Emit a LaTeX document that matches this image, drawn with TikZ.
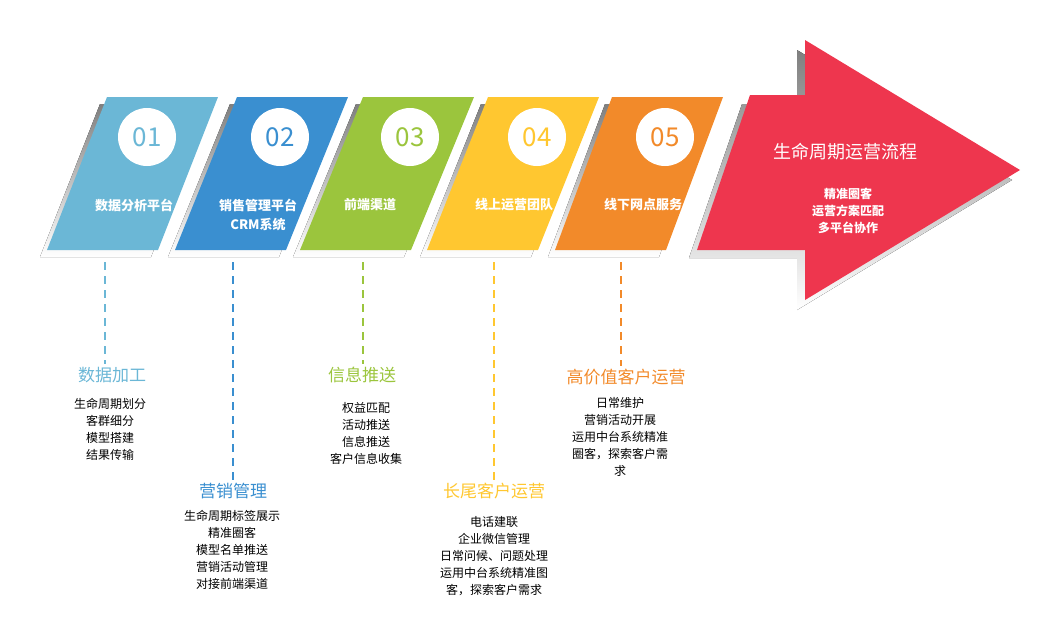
\documentclass[tikz,border=0pt]{standalone}
\usepackage{fontspec}
\setmainfont{Noto Sans CJK SC}
\usetikzlibrary{positioning}
\definecolor{cardA}{HTML}{6BB7D6}
\definecolor{cardB}{HTML}{3A8FD0}
\definecolor{cardC}{HTML}{9BC53D}
\definecolor{cardD}{HTML}{FFC730}
\definecolor{cardE}{HTML}{F28A2A}
\definecolor{arrowred}{HTML}{EE364E}
\definecolor{shade}{HTML}{A6A6A6}
\tikzset{
  numcircle/.style={circle, fill=white, minimum size=58pt, inner sep=0pt, font=\fontsize{26}{26}\selectfont},
  cardlabel/.style={text=white, font=\fontsize{13}{19}\selectfont\bfseries, align=center},
  steptitle/.style={font=\fontsize{17}{20}\selectfont, anchor=north},
  stepbody/.style={font=\fontsize{12}{17}\selectfont, align=center, anchor=north, inner sep=0pt},
  guide/.style={dashed, line width=2pt, dash pattern=on 8pt off 6pt}
}
\begin{document}
\begin{tikzpicture}[x=1pt,y=-1pt]
  \useasboundingbox (0,0) rectangle (1046,627);
  % cards: top-left x, bottom-left x, colour, index
  \foreach \tx/\bx/\col/\i/\cx in {107/47/cardA/1/147, 237/175/cardB/2/280, 363/300/cardC/3/410, 488/427/cardD/4/537, 612/555/cardE/5/665}{
    \fill[shade] (\tx-7,104) -- ++(111,0) -- (\bx+104,257) -- (\bx-7,257) -- cycle;
    \fill[\col] (\tx,97) -- ++(111,0) -- (\bx+111,250) -- (\bx,250) -- cycle;
    \node[numcircle, text=\col] (c\i) at (\cx,137) {0\i};
  }
  % big arrow
  \fill[shade] (742,104) -- (797,104) -- (797,50) -- (1012,180) -- (797,310) -- (797,258) -- (689,258) -- cycle;
  \fill[arrowred] (750,95) -- (805,95) -- (805,40) -- (1020,170) -- (805,300) -- (805,250) -- (697,250) -- cycle;
  \node[text=white, font=\fontsize{18}{20}\selectfont] (head) at (845,152) {生命周期运营流程};
  \node[cardlabel, font=\fontsize{12}{17}\selectfont\bfseries] (goals) at (848,211) {精准圈客\\运营方案匹配\\多平台协作};
  % card labels
  \node[cardlabel] (l1) at (134,205) {数据分析平台};
  \node[cardlabel] (l2) at (258,215) {销售管理平台\\CRM系统};
  \node[cardlabel] (l3) at (370,205) {前端渠道};
  \node[cardlabel] (l4) at (514,205) {线上运营团队};
  \node[cardlabel] (l5) at (643,205) {线下网点服务};
  % guides and steps
  \coordinate (d1) at (105,262);
  \coordinate (d2) at (233,262);
  \coordinate (d3) at (363,262);
  \coordinate (d4) at (494,262);
  \coordinate (d5) at (621,262);
  \node[steptitle, text=cardA] (t1) at (112,364) {数据加工};
  \node[steptitle, text=cardB] (t2) at (233,480) {营销管理};
  \node[steptitle, text=cardC] (t3) at (362,364) {信息推送};
  \node[steptitle, text=cardD] (t4) at (494,480) {长尾客户运营};
  \node[steptitle, text=cardE] (t5) at (626,366) {高价值客户运营};
  \draw[guide, cardA] (d1) -- (d1 |- t1.north);
  \draw[guide, cardB] (d2) -- (d2 |- t2.north);
  \draw[guide, cardC] (d3) -- (d3 |- t3.north);
  \draw[guide, cardD] (d4) -- (d4 |- t4.north);
  \draw[guide, cardE] (d5) -- (d5 |- t5.north);
  \node[stepbody] (b1) at (110,398) {生命周期划分\\客群细分\\模型搭建\\结果传输};
  \node[stepbody] (b2) at (232,510) {生命周期标签展示\\精准圈客\\模型名单推送\\营销活动管理\\对接前端渠道};
  \node[stepbody] (b3) at (366,402) {权益匹配\\活动推送\\信息推送\\客户信息收集};
  \node[stepbody] (b4) at (494,516) {电话建联\\企业微信管理\\日常问候、问题处理\\运用中台系统精准图\\客，探索客户需求};
  \node[stepbody] (b5) at (620,397) {日常维护\\营销活动开展\\运用中台系统精准\\圈客，探索客户需\\求};
\end{tikzpicture}
\end{document}
